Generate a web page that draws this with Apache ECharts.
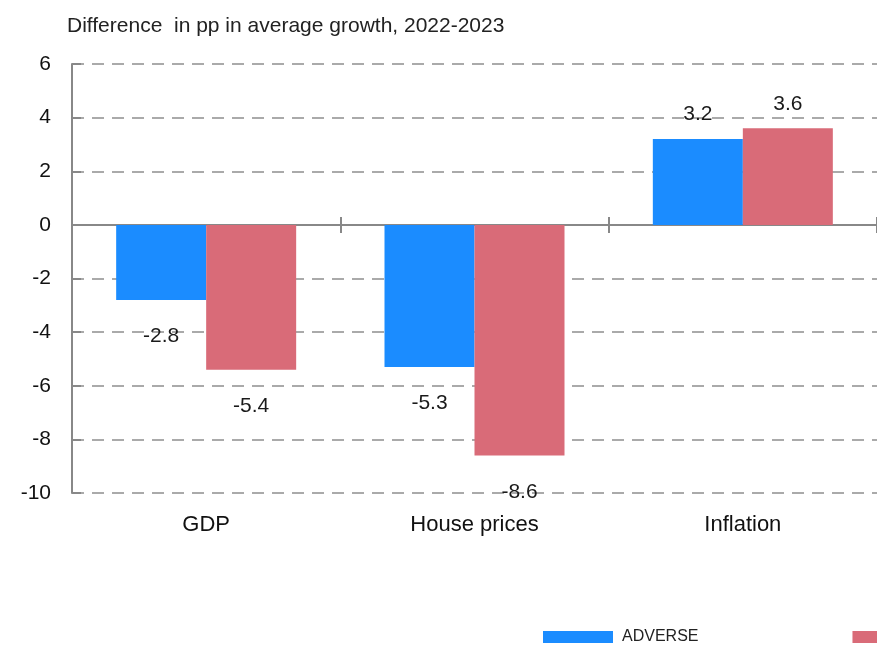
<!DOCTYPE html>
<html>
<head>
<meta charset="utf-8">
<script src="https://cdn.jsdelivr.net/npm/echarts@6/dist/echarts.min.js"></script>
<style>
  html, body { margin: 0; padding: 0; background: #fff; }
  #chart { width: 877px; height: 646px; }
</style>
</head>
<body>
<div id="chart"></div>
<script>
// Scenario deviations in average growth (percentage points), 2022-2023
const categories = ['GDP', 'House prices', 'Inflation'];
const adverseValues = [-2.8, -5.3, 3.2];
const severeValues = [-5.4, -8.6, 3.6];
const seriesNames = ['ADVERSE', 'SEVERELY ADVERSE'];
const yTicks = { min: -10, max: 6, interval: 2 };

const FONT = '"Liberation Sans", Arial, Helvetica, sans-serif';
const BLUE = '#1b8cff';
const RED = '#d96b78';

// negative bars carry their label beneath, positive ones above
function withLabels(values) {
  return values.map(v => ({
    value: v,
    label: v < 0
      ? { position: 'bottom', distance: 26 }
      : { position: 'top', distance: 14 }
  }));
}

const chart = echarts.init(document.getElementById('chart'));

const zeroAxisBase = {
  type: 'category',
  data: categories,
  boundaryGap: true,
  axisLabel: { show: false },
  splitLine: { show: false }
};

chart.setOption({
  backgroundColor: '#ffffff',
  animation: false,
  title: {
    text: 'Difference  in pp in average growth, 2022-2023',
    left: 62,
    top: 11,
    textStyle: { fontFamily: FONT, fontSize: 21, fontWeight: 'normal', color: '#222' }
  },
  legend: {
    left: 538,
    top: 624,
    width: 700,
    itemWidth: 70,
    itemHeight: 12,
    itemGap: 154,
    icon: 'rect',
    textStyle: {
      fontFamily: FONT,
      fontSize: 16,
      color: '#222',
      padding: [0, 0, 0, 4]
    },
    data: seriesNames
  },
  grid: { left: 72, top: 64, width: 810, bottom: 153, containLabel: false },
  xAxis: [
    Object.assign({}, zeroAxisBase, {
      position: 'bottom',
      axisLine: { show: true, onZero: true, onZeroAxisIndex: 0, lineStyle: { color: '#888', width: 2 } },
      axisTick: { show: true, inside: false, length: 8, lineStyle: { color: '#888', width: 2 } }
    }),
    Object.assign({}, zeroAxisBase, {
      position: 'bottom',
      axisLine: { show: false, onZero: true, onZeroAxisIndex: 0 },
      axisTick: { show: true, inside: true, length: 8, lineStyle: { color: '#888', width: 2 } }
    }),
    {
      type: 'category',
      data: categories,
      position: 'bottom',
      axisLine: { show: false, onZero: false },
      axisTick: { show: false },
      axisLabel: { show: true, margin: 21, fontFamily: FONT, fontSize: 22, color: '#111' },
      splitLine: { show: false }
    }
  ],
  yAxis: {
    type: 'value',
    min: yTicks.min,
    max: yTicks.max,
    interval: yTicks.interval,
    axisLine: { show: true, onZero: false, lineStyle: { color: '#888', width: 2 } },
    axisTick: { show: true, inside: true, length: 9, lineStyle: { color: '#888', width: 2 } },
    axisLabel: { margin: 21, fontFamily: FONT, fontSize: 21, color: '#111' },
    splitLine: {
      show: true,
      lineStyle: { color: '#aaaaaa', width: 2, type: [12, 8] }
    }
  },
  series: [
    {
      name: seriesNames[0],
      type: 'bar',
      xAxisIndex: 0,
      barWidth: 90,
      barGap: '0%',
      itemStyle: { color: BLUE },
      label: { show: true, fontFamily: FONT, fontSize: 21, color: '#1a1a1a' },
      data: withLabels(adverseValues)
    },
    {
      name: seriesNames[1],
      type: 'bar',
      xAxisIndex: 0,
      barWidth: 90,
      barGap: '0%',
      itemStyle: { color: RED },
      label: { show: true, fontFamily: FONT, fontSize: 21, color: '#1a1a1a' },
      data: withLabels(severeValues)
    }
  ]
});
</script>
</body>
</html>
